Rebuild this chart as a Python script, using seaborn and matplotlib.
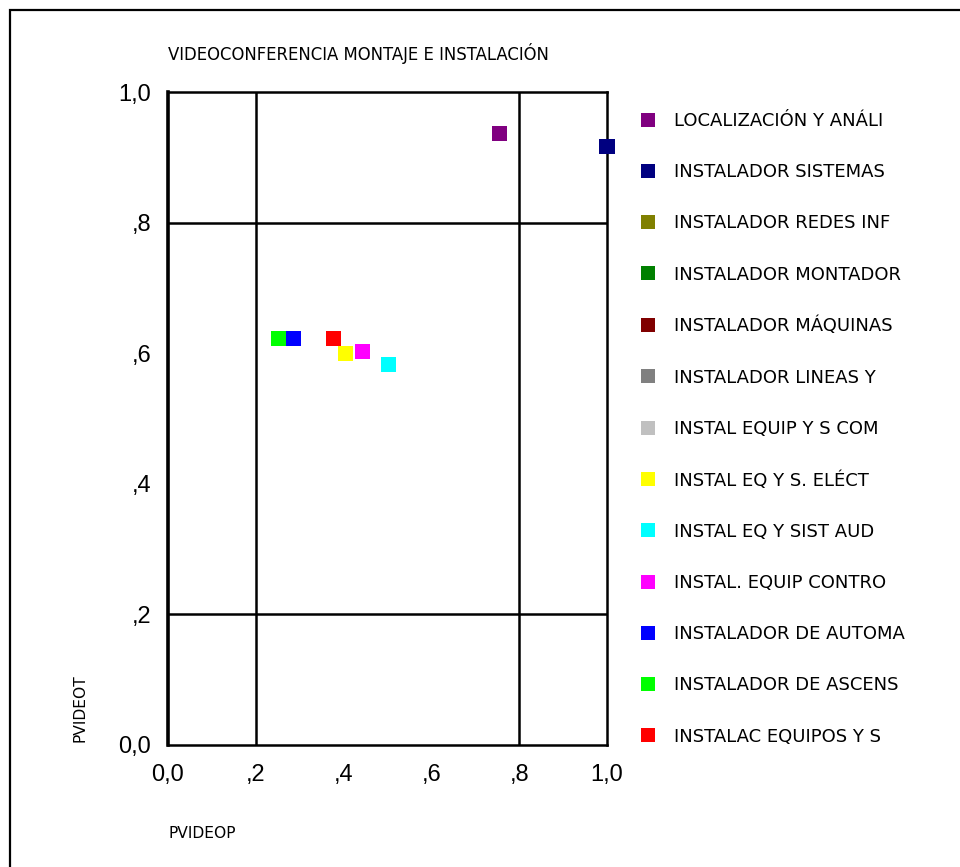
import matplotlib
matplotlib.use("Agg")
import matplotlib.pyplot as plt
from matplotlib.lines import Line2D
from matplotlib.patches import Rectangle
import numpy as np
import pandas as pd
import seaborn as sns

# Occupational profiles and their scores on the two video-conference indices
categories = [
    "LOCALIZACIÓN Y ANÁLI",
    "INSTALADOR SISTEMAS",
    "INSTALADOR REDES INF",
    "INSTALADOR MONTADOR",
    "INSTALADOR MÁQUINAS",
    "INSTALADOR LINEAS Y",
    "INSTAL EQUIP Y S COM",
    "INSTAL EQ Y S. ELÉCT",
    "INSTAL EQ Y SIST AUD",
    "INSTAL. EQUIP CONTRO",
    "INSTALADOR DE AUTOMA",
    "INSTALADOR DE ASCENS",
    "INSTALAC EQUIPOS Y S",
]
pvideop = [0.755, 1.0, np.nan, np.nan, np.nan, np.nan, np.nan,
           0.405, 0.502, 0.443, 0.285, 0.252, 0.378]
pvideot = [0.937, 0.916, np.nan, np.nan, np.nan, np.nan, np.nan,
           0.600, 0.583, 0.603, 0.623, 0.623, 0.623]
colors = ["#800080", "#000080", "#808000", "#008000", "#800000", "#808080",
          "#C0C0C0", "#FFFF00", "#00FFFF", "#FF00FF", "#0000FF", "#00FF00",
          "#FF0000"]
ticks = [0.0, 0.2, 0.4, 0.6, 0.8, 1.0]
tick_labels = ["0,0", ",2", ",4", ",6", ",8", "1,0"]
ref_lines = [0.2, 0.8]

df = pd.DataFrame({"grupo": categories, "PVIDEOP": pvideop, "PVIDEOT": pvideot})
palette = dict(zip(categories, colors))

sns.set_style("white")
plt.rcParams["font.family"] = ["DejaVu Sans"]
plt.rcParams["text.color"] = "black"
plt.rcParams["xtick.color"] = "black"
plt.rcParams["ytick.color"] = "black"
plt.rcParams["xtick.labelcolor"] = "black"
plt.rcParams["ytick.labelcolor"] = "black"

fig = plt.figure(figsize=(9.6, 8.67), dpi=100)
ax = fig.add_axes([168 / 960, 1 - 745 / 867, 439 / 960, 653 / 867])

# outer frame around the whole chart
fig.patches.append(Rectangle((10 / 960, -0.05), 1.2, 1 - 10 / 867 + 0.05,
                             transform=fig.transFigure, fill=False,
                             edgecolor="black", linewidth=1.6))

for v in ref_lines:
    ax.axvline(v, color="black", linewidth=1.8, zorder=1)
    ax.axhline(v, color="black", linewidth=1.8, zorder=1)

sns.scatterplot(data=df, x="PVIDEOP", y="PVIDEOT", hue="grupo",
                hue_order=categories, palette=palette, marker="s", s=118,
                linewidth=0, legend=False, ax=ax, zorder=5, clip_on=False)

ax.set_xlim(0, 1)
ax.set_ylim(0, 1)
ax.set_xticks(ticks)
ax.set_xticklabels(tick_labels, fontfamily="Liberation Sans", fontsize=17,
                   color="black")
ax.set_yticks(ticks)
ax.set_yticklabels(tick_labels, fontfamily="Liberation Sans", fontsize=17,
                   color="black")
ax.tick_params(axis="x", direction="out", length=3, width=4, pad=11, color="black")
ax.tick_params(axis="y", direction="out", length=3, width=4, pad=9, color="black")
ax.set_xlabel("")
ax.set_ylabel("")
for side in ["left", "right", "top", "bottom"]:
    ax.spines[side].set_color("black")
    ax.spines[side].set_linewidth(1.8)
ax.spines["left"].set_linewidth(2.6)

fig.text(168 / 960, 1 - 53 / 867, "VIDEOCONFERENCIA MONTAJE E INSTALACIÓN",
         fontsize=11.9, ha="left", va="center", color="black")
fig.text(168 / 960, 1 - 833 / 867, "PVIDEOP", fontsize=11.2, ha="left",
         va="center", color="black")
fig.text(80 / 960, 1 - 742 / 867, "PVIDEOT", fontsize=11.2, rotation=90,
         ha="center", va="bottom", color="black")

handles = [Line2D([], [], linestyle="none", marker="s", markersize=10,
                  markerfacecolor=c, markeredgewidth=0) for c in colors]
leg = fig.legend(handles, categories, loc="upper left",
                 bbox_to_anchor=(641 / 960, 1 - 112 / 867), frameon=False,
                 fontsize=13, labelspacing=1.84, handlelength=0.8,
                 handletextpad=1.0, borderpad=0, borderaxespad=0)
for t in leg.get_texts():
    t.set_color("black")

fig.savefig("out.png", dpi=100)
